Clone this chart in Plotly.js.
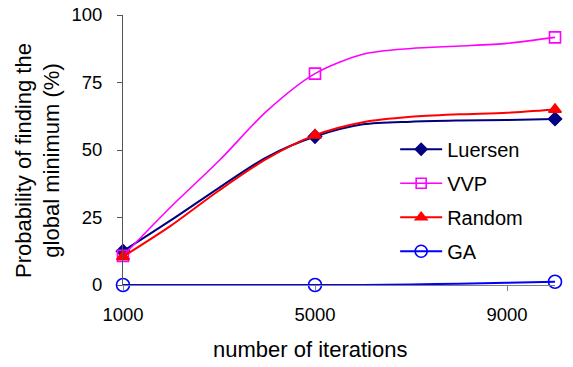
<!DOCTYPE html>
<html>
<head>
<meta charset="utf-8">
<script src="https://cdn.plot.ly/plotly-3.0.1.min.js"></script>
<style>html,body{margin:0;padding:0;background:#fff;}#chart{width:573px;height:367px;}</style>
</head>
<body>
<div id="chart"></div>
<script>
// ---- data ----
var iterations = [1000, 2000, 3000, 4000, 5000, 6000, 7000, 8000, 9000, 10000];
var luersen = [12.5, 24, 36, 47.4, 55, 59.5, 60.5, 60.9, 61.1, 61.5];
var vvp     = [10.8, 29, 46, 64.5, 78.3, 85.5, 87.6, 88.5, 89.5, 91.7];
var random  = [10.5, 22, 35, 46.8, 55.5, 60.3, 62.3, 63.2, 63.8, 65.0];
var ga      = [0, 0, 0, 0, 0, 0, 0.2, 0.5, 0.8, 1.2];
var markedIterations = [1000, 5000, 10000];
var seriesNames = ['Luersen', 'VVP', 'Random', 'GA'];
var xTicks = [1000, 5000, 9000];
var yTicks = [0, 25, 50, 75, 100];

var styles = [
  {color: '#000080', symbol: 'diamond', size: 10, lw: 2},
  {color: '#FF00FF', symbol: 'square-open', size: 11, lw: 1.6},
  {color: '#FF0000', symbol: 'triangle-up', size: 11, lw: 2},
  {color: '#0000FF', symbol: 'circle-open', size: 13, lw: 2}
];
var values = [luersen, vvp, random, ga];

var traces = [];
values.forEach(function (vals, i) {
  var st = styles[i];
  var mx = [], my = [];
  markedIterations.forEach(function (it) {
    var k = iterations.indexOf(it);
    mx.push(iterations[k]); my.push(vals[k]);
  });
  traces.push({
    x: iterations, y: vals, type: 'scatter', mode: 'lines',
    line: {color: st.color, width: st.lw, shape: 'spline', smoothing: 0.8},
    showlegend: false, legendgroup: seriesNames[i], hoverinfo: 'skip', cliponaxis: false
  });
  traces.push({
    x: mx, y: my, type: 'scatter', mode: 'markers',
    marker: {color: st.color, symbol: st.symbol, size: st.size, line: {color: st.color, width: 1.6}},
    showlegend: false, legendgroup: seriesNames[i], cliponaxis: false
  });
  traces.push({
    x: [null], y: [null], type: 'scatter', mode: 'lines+markers', name: seriesNames[i],
    line: {color: st.color, width: st.lw},
    marker: {color: st.color, symbol: st.symbol, size: st.size - 1, line: {color: st.color, width: 1.6}},
    legendgroup: seriesNames[i], showlegend: true
  });
});

var font = "Liberation Sans, Arial, sans-serif";
var layout = {
  width: 573, height: 367,
  margin: {l: 123, r: 18, t: 15, b: 82},
  paper_bgcolor: '#fff', plot_bgcolor: '#fff',
  font: {family: font, size: 18, color: '#000'},
  showlegend: true,
  legend: {
    x: 0.63, y: 0.575, xanchor: 'left', yanchor: 'top',
    font: {family: font, size: 20, color: '#000'},
    bgcolor: 'rgba(0,0,0,0)', tracegroupgap: 5, traceorder: 'grouped', itemwidth: 42
  },
  xaxis: {
    range: [1000, 10000], tickvals: xTicks, ticktext: xTicks.map(String),
    showgrid: false, zeroline: false, showline: true, linecolor: '#808080', linewidth: 1,
    ticks: 'outside', ticklen: 5, tickcolor: '#808080', ticklabelstandoff: 8,
    tickfont: {family: font, size: 18.5}
  },
  yaxis: {
    range: [0, 100], tickvals: yTicks, ticktext: yTicks.map(String),
    showgrid: false, zeroline: false, showline: true, linecolor: '#555', linewidth: 1,
    ticks: 'outside', ticklen: 5, tickcolor: '#555', ticklabelstandoff: 11,
    tickfont: {family: font, size: 18.5}
  },
  annotations: [
    {text: 'number of iterations', xref: 'paper', yref: 'paper', x: (310 - 123) / 432, y: -0.24,
     xanchor: 'center', yanchor: 'middle', showarrow: false, font: {family: font, size: 22}},
    {text: 'Probability of finding the<br>global minimum (%)', xref: 'paper', yref: 'paper',
     x: -0.197, y: 0.463, xanchor: 'center', yanchor: 'middle', textangle: -90, showarrow: false,
     font: {family: font, size: 22}}
  ]
};

Plotly.newPlot('chart', traces, layout, {displayModeBar: false, staticPlot: true});
</script>
</body>
</html>
